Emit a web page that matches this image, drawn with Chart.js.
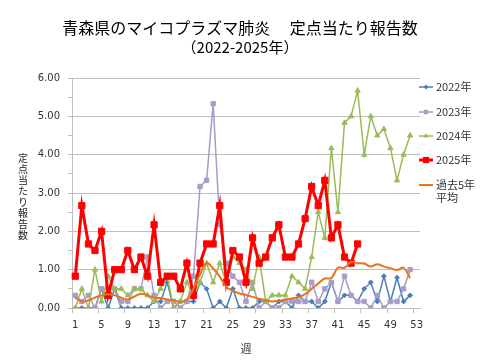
<!DOCTYPE html>
<html lang="ja">
<head>
<meta charset="utf-8">
<title>青森県のマイコプラズマ肺炎 定点当たり報告数</title>
<script src="https://cdn.jsdelivr.net/npm/chart.js@4/dist/chart.umd.min.js"></script>
<style>
  html, body { margin: 0; padding: 0; background: #fff; }
  #wrap { width: 480px; height: 360px; }
</style>
</head>
<body>
<div id="wrap"><canvas id="chart" width="480" height="360"></canvas></div>
<script>
(function() {
  // ---- data ----
  const weeks = ['1','2','3','4','5','6','7','8','9','10','11','12','13','14','15','16','17','18',
    '19','20','21','22','23','24','25','26','27','28','29','30','31','32','33','34','35','36',
    '37','38','39','40','41','42','43','44','45','46','47','48','49','50','51','52','53'];

  const y2022 = [0,0,0,0,0.5,0,0.5,0,0,0,
    0,0,0.17,0.17,0.67,0,0.17,0.17,0.17,0.67,
    0.5,0,0.17,0,0.5,0,0,0,0.17,0.17,
    0,0.17,0.17,0,0.33,0.17,0.17,0,0.17,0.67,
    0.17,0.33,0.33,0.17,0.5,0.67,0.17,0.83,0.17,0.79,
    0.17,0.33];

  const y2023 = [0.33,0.17,0.33,0,0.5,0.5,0.5,0.17,0.17,0.5,
    0.5,1.33,0.33,0,0.17,0.17,0,0.17,0.83,3.17,
    3.33,5.33,2.17,1.17,0.83,0.67,0.17,0.67,0,0.17,
    0,0,0.17,0.17,0.17,0.17,0.67,0.17,0.5,0.67,
    0.17,0.83,0.33,0.17,0.17,0,0.33,0,0.17,0.17,
    0.5,1];

  const y2024 = [0,0.5,0,1,0.17,0.83,0.5,0.5,0.33,0.5,
    0.5,0.33,0.17,0.5,0.83,0,0.17,0.67,0.33,0.67,
    1.17,0.67,1.17,0.67,1.33,1.17,1,0.5,1.33,0.17,
    0.33,0.33,0.33,0.83,0.67,0.5,1.33,2.5,1.83,4.17,
    2.5,4.83,5,5.67,4,5,4.5,4.67,4.17,3.33,
    4,4.5];

  const y2025 = [0.83,2.67,1.67,1.5,2,0.33,1,1,1.5,1,
    1.33,0.83,2.17,0.67,0.83,0.83,0.5,1.17,0.33,1.17,
    1.67,1.67,2.67,0.67,1.5,1.33,0.67,1.83,1.17,1.33,
    1.83,2.17,1.33,1.33,1.67,2.33,3.17,2.67,3.33,1.83,
    2.17,1.33,1.17,1.67];

  const avg5 = [0.27,0.17,0.2,0.27,0.33,0.36,0.33,0.27,0.22,0.3,
    0.37,0.33,0.27,0.26,0.22,0.2,0.16,0.22,0.5,0.88,
    1.17,1.03,0.82,0.55,0.45,0.38,0.34,0.29,0.24,0.2,
    0.17,0.19,0.22,0.25,0.28,0.36,0.5,0.64,0.77,0.78,
    1.05,1.05,1.2,1.17,1.16,1.08,1.14,1.08,1.04,0.99,
    1.05,0.78];

  const titleLines = ['青森県のマイコプラズマ肺炎　 定点当たり報告数', '（2022-2025年）'];
  const yTitle = '定点当たり報告数';
  const xTitle = '週';

  const jpFont = '"Noto Sans CJK JP", "Noto Sans", sans-serif';
  const numFont = '"DejaVu Sans", Verdana, sans-serif';
  const gridGray = '#BFBFBF';

  function series(label, data, color, style, radius, width, order) {
    return {
      label: label,
      data: data,
      borderColor: color,
      backgroundColor: color,
      pointBackgroundColor: color,
      pointBorderColor: color,
      pointBorderWidth: 1,
      pointStyle: style,
      pointRadius: radius,
      borderWidth: width,
      tension: 0,
      order: order
    };
  }

  const datasets = [
    series('2022年', y2022, '#4A7EBB', 'rectRot', 2.4, 1.5, 4),
    series('2023年', y2023, '#A99CCB', 'rect', 3.1, 1.5, 3),
    series('2024年', y2024, '#9BBB59', 'triangle', 3, 1.5, 2),
    series('2025年', y2025, '#FF0000', 'rect', 4.4, 3, 1),
    Object.assign(series('過去5年\n平均', avg5, '#E8731A', false, 0, 2, 0), { tension: 0.4 })
  ];

  // legend + titles drawn on the canvas
  const legendY = [87, 112, 136, 160, 185];

  function drawMarker(ctx, style, x, y, r) {
    if (!style || r <= 0) return;
    ctx.beginPath();
    if (style === 'rect') {
      const s = r * Math.SQRT1_2;
      ctx.rect(x - s, y - s, 2 * s, 2 * s);
    } else if (style === 'rectRot') {
      ctx.moveTo(x, y - r); ctx.lineTo(x + r, y); ctx.lineTo(x, y + r); ctx.lineTo(x - r, y);
      ctx.closePath();
    } else if (style === 'triangle') {
      ctx.moveTo(x, y - r); ctx.lineTo(x + r * 0.87, y + r * 0.5); ctx.lineTo(x - r * 0.87, y + r * 0.5);
      ctx.closePath();
    }
    ctx.fill();
  }

  const overlay = {
    id: 'overlay',
    afterDraw(chart) {
      const ctx = chart.ctx;
      ctx.save();
      ctx.fillStyle = '#000';
      ctx.textAlign = 'center';
      ctx.textBaseline = 'middle';
      ctx.font = '16px ' + jpFont;
      ctx.fillText(titleLines[0], 240, 28);
      ctx.font = '15px ' + jpFont;
      ctx.fillText(titleLines[1], 240, 47);

      ctx.fillStyle = '#222';
      ctx.font = '10px ' + jpFont;
      Array.from(yTitle).forEach((c, i) => ctx.fillText(c, 23, 158 + i * 11));

      ctx.textAlign = 'left';
      ctx.font = '11px ' + jpFont;
      chart.data.datasets.forEach((ds, i) => {
        const y = legendY[i];
        ctx.strokeStyle = ds.borderColor;
        ctx.lineWidth = ds.borderWidth;
        ctx.beginPath();
        ctx.moveTo(419, y);
        ctx.lineTo(433, y);
        ctx.stroke();
        ctx.fillStyle = ds.borderColor;
        drawMarker(ctx, ds.pointStyle, 426, y, ds.pointRadius);
        ctx.fillStyle = '#333';
        ds.label.split('\n').forEach((line, j) => ctx.fillText(line, 436, y + j * 13));
      });
      ctx.restore();
    }
  };

  function isWhole(v) { return Math.abs(v - Math.round(v)) < 1e-6; }

  new Chart(document.getElementById('chart').getContext('2d'), {
    type: 'line',
    data: { labels: weeks, datasets: datasets },
    options: {
      responsive: false,
      animation: false,
      devicePixelRatio: 1,
      layout: { padding: { top: 78, right: 60, bottom: 0, left: 0 } },
      plugins: {
        legend: { display: false },
        tooltip: { enabled: false },
        title: { display: false }
      },
      scales: {
        x: {
          type: 'category',
          offset: true,
          grid: {
            drawOnChartArea: false,
            offset: true,
            tickLength: 5,
            tickColor: ctx => (ctx.index % 4 === 0 ? gridGray : 'rgba(0,0,0,0)')
          },
          border: { color: gridGray },
          ticks: {
            autoSkip: false,
            maxRotation: 0,
            padding: 6,
            color: '#333',
            font: { family: numFont, size: 10 },
            callback: function(val, idx) { return idx % 4 === 0 ? this.getLabelForValue(val) : ''; }
          },
          title: {
            display: true,
            text: xTitle,
            color: '#333',
            font: { family: jpFont, size: 11 },
            padding: { top: 4, bottom: 5 }
          },
          afterFit: scale => { scale.height = 52; }
        },
        y: {
          min: 0,
          max: 6,
          grid: {
            color: ctx => (ctx.tick && isWhole(ctx.tick.value) ? gridGray : 'rgba(0,0,0,0)'),
            tickColor: gridGray,
            tickLength: 4
          },
          border: { color: gridGray },
          ticks: {
            stepSize: 0.5,
            padding: 8,
            color: '#333',
            font: { family: numFont, size: 10 },
            callback: v => (isWhole(v) ? v.toFixed(2) : '')
          },
          afterFit: scale => { scale.width = 72; }
        }
      }
    },
    plugins: [overlay]
  });
})();
</script>
</body>
</html>
